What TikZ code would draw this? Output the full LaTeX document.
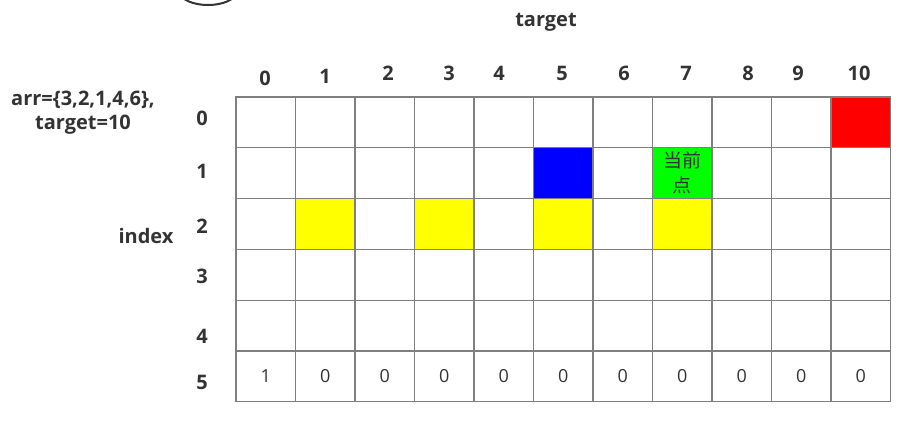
\documentclass[tikz,border=0pt]{standalone}
\usepackage{fontspec}
\setmainfont{Open Sans}
\newfontfamily\cjkfont{Noto Sans CJK SC}
\usetikzlibrary{positioning}
\definecolor{gridgray}{HTML}{7F7F7F}
\definecolor{labelgray}{HTML}{333333}
\definecolor{cellred}{HTML}{FF0000}
\definecolor{cellblue}{HTML}{0000FF}
\definecolor{cellgreen}{HTML}{00FF00}
\definecolor{cellyellow}{HTML}{FFFF00}
\tikzset{
  cellbox/.style={draw=gridgray, line width=1.3pt, minimum width=59.5pt, minimum height=50.8pt, inner sep=0pt, font=\fontsize{18}{21}\selectfont, text=labelgray},
  headlabel/.style={inner sep=0pt, font=\fontsize{20}{24}\selectfont\bfseries, text=labelgray}
}

\begin{document}
\begin{tikzpicture}[x=1pt, y=-1pt]
  \useasboundingbox (0,0) rectangle (917,431);
  % partly hidden circle at the top
  \begin{scope}
    \clip (0,0) rectangle (917,431);
    \draw[labelgray, line width=2pt] (208,-8) ellipse [x radius=28, y radius=13];
  \end{scope}
  \node[headlabel] (target) at (546,22) {target};
  \node[headlabel, align=center] (arr) at (83,113) {arr=\{3,2,1,4,6\},\\target=10};
  \node[headlabel] (index) at (146,236) {index};
  % the table
  \foreach \r in {0,...,5}{
    \foreach \c in {0,...,10}{
      \node[cellbox] (c-\r-\c) at (236+59.5*\c+29.75, 97+50.8*\r+25.4) {};
    }
  }
  \foreach \r/\c/\col in {0/10/cellred, 1/5/cellblue, 2/1/cellyellow, 2/3/cellyellow, 2/5/cellyellow, 2/7/cellyellow}{
    \node[cellbox, fill=\col] (k-\r-\c) at (c-\r-\c) {};
  }
  \node[cellbox, fill=cellgreen, align=center, text width=44pt, font=\cjkfont\fontsize{19}{25}\selectfont] (now) at (c-1-7) {当前\\点};
  \node[cellbox, draw=none] (v-0) at (c-5-0) {1};
  \foreach \c in {1,...,10}{
    \node[cellbox, draw=none] (v-\c) at (c-5-\c) {0};
  }
  % column and row numbers
  \foreach \c/\x/\y in {0/265/78, 1/325/76, 2/388/73, 3/449/73, 4/499/73, 5/562/73, 6/624/73, 7/686/73, 8/748/73, 9/798/73, 10/859/73}{
    \node[headlabel] (col-\c) at (\x,\y) {\c};
  }
  \foreach \r/\y in {0/118, 1/171, 2/226, 3/276, 4/336, 5/382}{
    \node[headlabel] (row-\r) at (202,\y) {\r};
  }
\end{tikzpicture}
\end{document}
